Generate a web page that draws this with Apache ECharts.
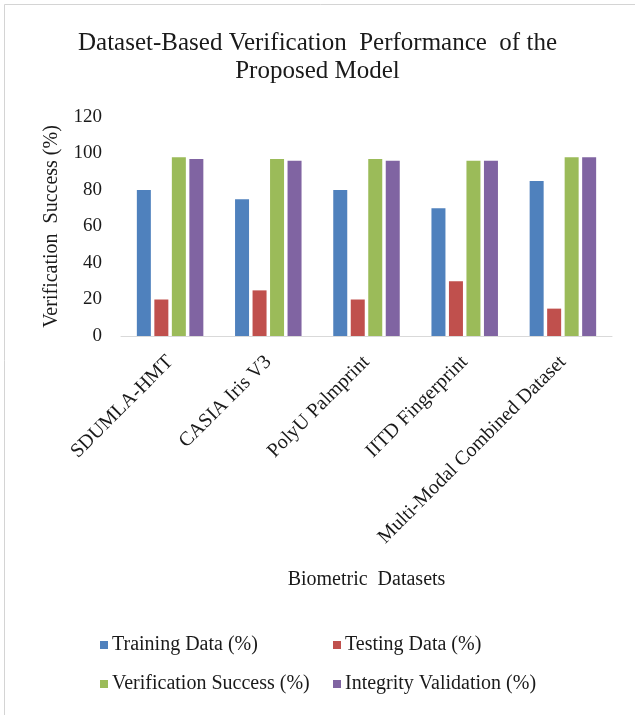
<!DOCTYPE html>
<html>
<head>
<meta charset="utf-8">
<script src="https://cdn.jsdelivr.net/npm/echarts@6/dist/echarts.min.js"></script>
<style>
  html, body { margin: 0; padding: 0; background: #fff; }
  #main { width: 635px; height: 715px; }
</style>
</head>
<body>
<div id="main"></div>
<script>
// data
var categories = ['SDUMLA-HMT', 'CASIA Iris V3', 'PolyU Palmprint', 'IITD Fingerprint', 'Multi-Modal Combined Dataset']
var seriesNames = ['Training Data (%)', 'Testing Data (%)', 'Verification Success (%)', 'Integrity Validation (%)']
var trainingData = [80, 75, 80, 70, 85]
var testingData = [20, 25, 20, 30, 15]
var verificationData = [98, 97, 97, 96, 98]
var integrityData = [97, 96, 96, 96, 98]
var yTicks = [0, 20, 40, 60, 80, 100, 120]

var colors = ['#4F81BD', '#C0504D', '#9BBB59', '#8064A2']
var font = '"Liberation Serif", "Times New Roman", serif'
var textColor = '#1a1a1a'

var chart = echarts.init(document.getElementById('main'), null, { renderer: 'canvas' })

function makeLegend(name, left, top) {
  return {
    data: [name],
    left: left,
    top: top,
    icon: 'rect',
    itemWidth: 8,
    itemHeight: 8,
    itemGap: 0,
    padding: 0,
    textStyle: { fontFamily: font, fontSize: 20, color: textColor, padding: [0, 0, 0, -1] }
  }
}

function makeBar(i, data) {
  return {
    name: seriesNames[i],
    type: 'bar',
    data: data,
    barWidth: 14,
    barGap: '25%',
    itemStyle: { color: colors[i] }
  }
}

var option = {
  backgroundColor: '#ffffff',
  animation: false,
  color: colors,
  title: {
    text: 'Dataset-Based Verification  Performance  of the\nProposed Model',
    left: 'center',
    top: 24,
    textStyle: {
      fontFamily: font,
      fontWeight: 'normal',
      fontSize: 25,
      lineHeight: 28,
      color: textColor
    }
  },
  graphic: [{
    type: 'rect',
    shape: { x: 4.5, y: 4.5, width: 700, height: 800 },
    style: { fill: 'none', stroke: '#d4d4d4', lineWidth: 1 },
    silent: true
  }],
  legend: [
    makeLegend(seriesNames[0], 100, 635),
    makeLegend(seriesNames[1], 333, 635),
    makeLegend(seriesNames[2], 100, 674),
    makeLegend(seriesNames[3], 333, 674)
  ],
  grid: {
    left: 121,
    right: 23,
    top: 117,
    bottom: 379,
    containLabel: false
  },
  xAxis: {
    type: 'category',
    data: categories,
    name: 'Biometric  Datasets',
    nameLocation: 'middle',
    nameGap: 234,
    nameTextStyle: { fontFamily: font, fontSize: 20, color: textColor },
    axisLine: { lineStyle: { color: '#d9d9d9' } },
    axisTick: { show: false },
    axisLabel: {
      rotate: 45,
      margin: 23,
      interval: 0,
      fontFamily: font,
      fontSize: 20,
      color: textColor
    }
  },
  yAxis: {
    type: 'value',
    min: yTicks[0],
    max: yTicks[yTicks.length - 1],
    interval: 20,
    name: 'Verification  Success (%)',
    nameLocation: 'middle',
    nameGap: 59,
    nameTextStyle: { fontFamily: font, fontSize: 20, color: textColor },
    axisLine: { show: false },
    axisTick: { show: false },
    splitLine: { show: false },
    axisLabel: {
      margin: 19,
      fontFamily: font,
      fontSize: 19,
      color: textColor
    }
  },
  series: [
    makeBar(0, trainingData),
    makeBar(1, testingData),
    makeBar(2, verificationData),
    makeBar(3, integrityData)
  ]
}

chart.setOption(option)
</script>
</body>
</html>
